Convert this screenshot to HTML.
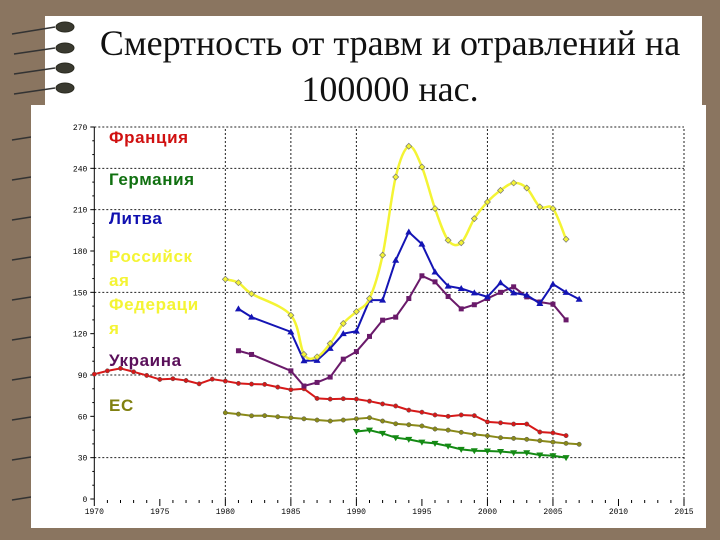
<!DOCTYPE html>
<html><head><meta charset="utf-8"><style>
body{margin:0;width:720px;height:540px;background:#8a7560;overflow:hidden;position:relative;font-family:"Liberation Sans",sans-serif}
#slide{position:absolute;left:45px;top:16px;width:657px;height:90px;background:#fff}
#title{position:absolute;left:60px;top:20px;width:660px;text-align:center;font-family:"Liberation Serif",serif;font-size:36px;line-height:46px;color:#111}
#panel{position:absolute;left:31px;top:105px;width:675px;height:423px;background:#fff}
svg{position:absolute;left:0;top:0}
</style></head><body>
<div id="slide"></div>
<svg width="100" height="540">
<g fill="#3a3a30" stroke="#2a2a20">
<ellipse cx="65" cy="27" rx="9" ry="5"/><ellipse cx="65" cy="48" rx="9" ry="5"/><ellipse cx="65" cy="68" rx="9" ry="5"/><ellipse cx="65" cy="88" rx="9" ry="5"/>
</g>
<g stroke="#333" stroke-width="1.5">
<line x1="12" y1="34" x2="55" y2="27"/><line x1="14" y1="54" x2="55" y2="48"/><line x1="14" y1="74" x2="55" y2="68"/><line x1="14" y1="94" x2="55" y2="88"/>
<line x1="12" y1="140" x2="31" y2="137"/><line x1="12" y1="180" x2="31" y2="177"/><line x1="12" y1="220" x2="31" y2="217"/><line x1="12" y1="260" x2="31" y2="257"/><line x1="12" y1="300" x2="31" y2="297"/><line x1="12" y1="340" x2="31" y2="337"/><line x1="12" y1="380" x2="31" y2="377"/><line x1="12" y1="420" x2="31" y2="417"/><line x1="12" y1="460" x2="31" y2="457"/><line x1="12" y1="500" x2="31" y2="497"/>
</g></svg>
<div id="title">Смертность от травм и отравлений на<br>100000 нас.</div>
<div id="panel"></div>
<svg id="chart" width="720" height="540"></svg>
<script>
const tickYears=[1970,1975,1980,1985,1990,1995,2000,2005,2010,2015];
const tickVals=[0,30,60,90,120,150,180,210,240,270];
const gridVals=[30,90,150,210,240,270];
const gridYears=[1980,1985,1990,2000,2005,2015];
const legendNames=["Франция","Германия","Литва","Российск|ая|Федераци|я","Украина","ЕС"];
const franceYears=[1970,1971,1972,1973,1974,1975,1976,1977,1978,1979,1980,1981,1982,1983,1984,1985,1986,1987,1988,1989,1990,1991,1992,1993,1994,1995,1996,1997,1998,1999,2000,2001,2002,2003,2004,2005,2006];
const franceVals=[90.6,93,94.8,92.3,89.7,86.8,87.3,86,83.6,87,85.6,83.9,83.4,83.2,81.2,79.3,80,73,72.5,72.8,72.5,71,69,67.5,64.5,63,61,60,61,60.5,56,55.3,54.4,54.4,48.6,48,46];
const euYears=[1980,1981,1982,1983,1984,1985,1986,1987,1988,1989,1990,1991,1992,1993,1994,1995,1996,1997,1998,1999,2000,2001,2002,2003,2004,2005,2006,2007];
const euVals=[62.6,61.6,60.4,60.5,59.7,59,58.2,57.3,56.6,57.3,58.2,59,56.6,54.6,53.9,53,50.8,50,48.4,46.9,45.9,44.5,44,43.3,42.3,41.3,40.4,39.7];
const germanyYears=[1990,1991,1992,1993,1994,1995,1996,1997,1998,1999,2000,2001,2002,2003,2004,2005,2006];
const germanyVals=[49,50,47.6,44.5,43.3,41.3,40.4,38.4,36,35,34.8,34.5,33.6,33.6,31.9,31.4,30];
const ukraineYears=[1981,1982,1985,1986,1987,1988,1989,1990,1991,1992,1993,1994,1995,1996,1997,1998,1999,2000,2001,2002,2003,2004,2005,2006];
const ukraineVals=[107.6,104.9,93,82,84.6,88.5,101.5,107,118,129.8,132,145.5,162,157.6,147,138,141,145.5,150,154,146.7,143,141.4,130];
const lithYears=[1981,1982,1985,1986,1987,1988,1989,1990,1991,1992,1993,1994,1995,1996,1997,1998,1999,2000,2001,2002,2003,2004,2005,2006,2007];
const lithVals=[138,132,121.3,100.3,100.6,109.3,120,121.8,144.3,144.3,173.3,193.8,185,164.8,154.5,152.8,149.6,146.7,157,149.6,148,141.9,156,150,145];
const russiaYears=[1980,1981,1982,1985,1986,1987,1988,1989,1990,1991,1992,1993,1994,1995,1996,1997,1998,1999,2000,2001,2002,2003,2004,2005,2006];
const russiaVals=[159.5,157,149,133.4,105,103.2,112.9,127.4,136,145.5,177,233.7,256,241,210.8,187.8,186,203.5,215.6,224,229.4,225.7,212,210.8,188.5];

const NS="http://www.w3.org/2000/svg";
const svg=document.getElementById('chart');
const X=y=>94.3+(y-1970)*(684-94.3)/45;
const Y=v=>499-v*(499-127)/270;
function mk(t,a,p){const e=document.createElementNS(NS,t);for(const k in a)e.setAttribute(k,a[k]);(p||svg).appendChild(e);return e;}
gridVals.forEach(v=>{const l=mk('line',{x1:X(1970),x2:X(2015),y1:Y(v),y2:Y(v),stroke:'#222','stroke-dasharray':'2,2','stroke-width':1});

});
gridYears.forEach(y=>{const l=mk('line',{x1:X(y),x2:X(y),y1:Y(0),y2:Y(270),stroke:'#222','stroke-dasharray':'2,2','stroke-width':1});

});
const ax=mk('path',{d:`M${X(1970)},${Y(270)}V${Y(0)}`,stroke:'#000',fill:'none'});


for(let v=0;v<=270;v+=10){const t=mk('line',{x1:X(1970)-(v%30?2:4),x2:X(1970),y1:Y(v),y2:Y(v),stroke:'#000'});

}
for(let y=1970;y<=2015;y++){const t=mk('line',{x1:X(y),x2:X(y),y1:Y(0)+(y%5?1:0),y2:Y(0)+(y%5?4:7),stroke:'#000'});

}
tickVals.forEach(v=>{const t=mk('text',{x:X(1970)-7,y:Y(v)+3,'text-anchor':'end','font-size':8,'font-family':'Liberation Mono, monospace',fill:'#000'});t.textContent=v;

});
tickYears.forEach(y=>{const t=mk('text',{x:X(y),y:Y(0)+15,'text-anchor':'middle','font-size':8,'font-family':'Liberation Mono, monospace',fill:'#000'});t.textContent=y;

});
function pts(ys,vs){return ys.map((y,i)=>[X(y),Y(vs[i])]);}
function series(name,ys,vs,color,marker,smooth,w){
 const g=mk('g',{});
 
 
 const p=pts(ys,vs);let d='M'+p[0].join(',');
 if(smooth){for(let i=0;i<p.length-1;i++){const p0=p[i-1]||p[i],p1=p[i],p2=p[i+1],p3=p[i+2]||p2;
  d+=`C${p1[0]+(p2[0]-p0[0])/6},${p1[1]+(p2[1]-p0[1])/6} ${p2[0]-(p3[0]-p1[0])/6},${p2[1]-(p3[1]-p1[1])/6} ${p2[0]},${p2[1]}`;}}
 else p.slice(1).forEach(q=>d+='L'+q.join(','));
 mk('path',{d,stroke:color,'stroke-width':w,fill:'none'},g);
 p.forEach(([x,y])=>{let m;
  if(marker==='circle')m=mk('circle',{cx:x,cy:y,r:2.2,fill:color,stroke:'#555','stroke-width':0.5},g);
  else if(marker==='diamond')m=mk('path',{d:`M${x},${y-3}L${x+3},${y}L${x},${y+3}L${x-3},${y}Z`,fill:color,stroke:'#777','stroke-width':0.7},g);
  else if(marker==='square')m=mk('rect',{x:x-2.5,y:y-2.5,width:5,height:5,fill:color},g);
  else if(marker==='tri')m=mk('path',{d:`M${x},${y-3.5}L${x+3.5},${y+2.5}L${x-3.5},${y+2.5}Z`,fill:color},g);
  else m=mk('path',{d:`M${x},${y+3.5}L${x+3.5},${y-2.5}L${x-3.5},${y-2.5}Z`,fill:color},g);
  
  });
}
series('series-eu',euYears,euVals,'#8a8a18','circle',false,2);
series('series-germany',germanyYears,germanyVals,'#148a14','downtri',false,2);
series('series-france',franceYears,franceVals,'#d81818','circle',false,2);
series('series-ukraine',ukraineYears,ukraineVals,'#6a1a6a','square',false,2);
series('series-lithuania',lithYears,lithVals,'#1414b4','tri',false,2);
series('series-russia',russiaYears,russiaVals,'#f4f434','diamond',true,2.5);
const legColors=['#d01010','#107010','#1010b0','#f4f434','#5a105a','#808010'];
const legY=[143,185,224,262,366,411];
legendNames.forEach((n,i)=>{const t=mk('text',{x:109,y:legY[i],'font-size':17,'font-weight':'bold','letter-spacing':'0.6','font-family':'Liberation Sans, sans-serif',fill:legColors[i]});
 n.split('|').forEach((s,j)=>{const ts=mk('tspan',{x:109,dy:j?24:0},t);ts.textContent=s;});
 
 });
</script>
</body></html>
